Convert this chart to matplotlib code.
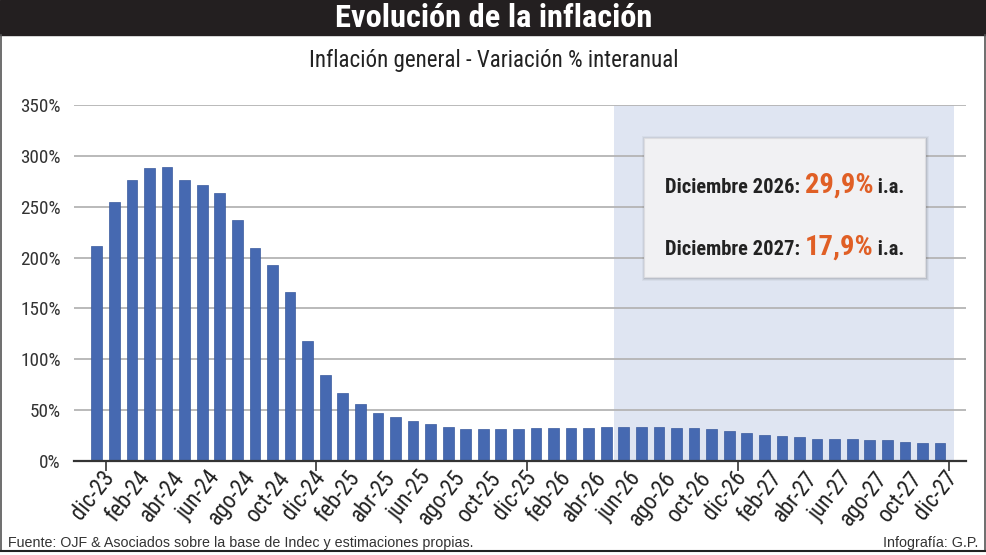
import matplotlib as mpl
mpl.use("Agg")
import matplotlib.pyplot as plt
from matplotlib.patches import Rectangle
from matplotlib.lines import Line2D
from matplotlib.transforms import ScaledTranslation

#
# --- chart data: monthly year-on-year inflation (%)
#
MONTHS = ["ene", "feb", "mar", "abr", "may", "jun",
          "jul", "ago", "sep", "oct", "nov", "dic"]
CATEGORIES = ["dic-23"] + [f"{m}-{y}" for y in (24, 25, 26, 27) for m in MONTHS]
VALUES = [
    211.4, 254.2, 276.2, 287.9, 289.4, 276.4, 271.5, 263.4, 236.7, 209.0,
    193.0, 166.0, 117.8, 84.5, 66.9, 55.9, 47.3, 43.5, 39.4, 36.6,
    33.6, 31.0, 31.0, 31.0, 31.0, 32.0, 32.0, 32.0, 32.0, 33.0,
    33.0, 33.0, 33.0, 32.0, 32.0, 31.0, 29.9, 28.0, 25.8, 24.5,
    23.5, 22.0, 22.0, 21.5, 20.5, 20.5, 19.0, 18.0, 17.9,
]
Y_TICKS = [0, 50, 100, 150, 200, 250, 300, 350]
FORECAST_START = "jun-26"
HIGHLIGHTS = [("Diciembre 2026: ", "29,9%"), ("Diciembre 2027: ", "17,9%")]

NARROW = ["Roboto Condensed", "DejaVu Sans"]
REGULAR = ["Liberation Sans", "DejaVu Sans"]
BAR_COLOR = "#4669b1"
ORANGE = "#e05f25"
TEXT = "#222222"

W, H = 987, 555
fig = plt.figure(figsize=(W / 100, H / 100), dpi=100)
fig.patch.set_facecolor("white")


def fx(px):
    return px / W


def fy(py):
    return 1 - py / H


def narrow(size, weight="normal"):
    return dict(family=NARROW, fontstretch="condensed", fontsize=size,
                fontweight=weight)


#
# --- frame and title band
#
fig.add_artist(Rectangle((0, fy(35)), 1, 35 / H, transform=fig.transFigure,
                         color="#231f20", zorder=0))
for xb in (fx(1.5), fx(985)):
    fig.add_artist(Line2D([xb, xb], [fy(35), fy(551)], transform=fig.transFigure,
                          color="#555555", lw=1.2))
fig.add_artist(Line2D([0, 1], [fy(551), fy(551)], transform=fig.transFigure,
                      color="#222222", lw=1.5))

fig.text(0.5, fy(18), "Evolución de la inflación", color="white",
         ha="center", va="center", **narrow(23.4, "bold"))
fig.text(0.5, fy(61), "Inflación general - Variación % interanual",
         color=TEXT, ha="center", va="center", **narrow(16.6))

#
# --- plotting area
#
ax = fig.add_axes([fx(74), fy(461), fx(966 - 74), (461 - 105) / H])
x = list(range(len(CATEGORIES)))
start = CATEGORIES.index(FORECAST_START)

ax.axvspan(start - 0.55, len(CATEGORIES) - 0.2, color="#dfe5f2", zorder=0, lw=0)
for t in Y_TICKS[1:]:
    ax.axhline(t, color="#b4b4b4", lw=1.3, zorder=1)
ax.bar(x, VALUES, width=0.61, color=BAR_COLOR, edgecolor="#3a5a9e", lw=0.5, zorder=2)

ax.set_xlim(-1.3, len(CATEGORIES) - 1 + 1.48)
ax.set_ylim(0, 350)
for s in ("top", "right", "left"):
    ax.spines[s].set_visible(False)
ax.spines["bottom"].set_color("#333333")
ax.spines["bottom"].set_linewidth(1.6)
ax.spines["bottom"].set_zorder(3)

ax.set_yticks(Y_TICKS)
ax.set_yticklabels([f"{t}%" for t in Y_TICKS], color="#333333", **narrow(13.8))
ax.tick_params(axis="y", length=0, pad=9.4)

ax.set_xticks(x[::2])
ax.set_xticklabels(CATEGORIES[::2], rotation=52, ha="right", va="top",
                   rotation_mode="anchor", color=TEXT, **narrow(16.5))
ax.set_xticks([i + 0.5 for i in range(0, len(CATEGORIES), 12)], minor=True)
ax.tick_params(axis="x", which="major", length=0, pad=4)
ax.tick_params(axis="x", which="minor", length=7, width=1.2, color="#333333")
offset = ScaledTranslation(4 / 100, 0, fig.dpi_scale_trans)
for lab in ax.get_xticklabels():
    lab.set_transform(lab.get_transform() + offset)

#
# --- highlight box
#
bx0, by0, bx1, by1 = 644, 138, 925, 277
for i, a in enumerate((0.04, 0.06, 0.08)):
    grow = 3 - i
    fig.add_artist(Rectangle((fx(bx0 - grow + 1), fy(by1 + grow + 1)),
                             (bx1 - bx0 + 2 * grow) / W, (by1 - by0 + 2 * grow) / H,
                             transform=fig.transFigure, color="black", alpha=a,
                             lw=0, zorder=4))
fig.add_artist(Rectangle((fx(bx0), fy(by1)), (bx1 - bx0) / W, (by1 - by0) / H,
                         transform=fig.transFigure, facecolor="#f1f1f3",
                         edgecolor="#dcdce0", lw=0.8, zorder=5))

renderer = fig.canvas.get_renderer()
for (label, value), base in zip(HIGHLIGHTS, (193, 255)):
    cur = 665
    for txt, color, style in ((label, TEXT, narrow(14.8, "semibold")),
                              (value, ORANGE, narrow(20.5, "bold")),
                              (" i.a.", TEXT, narrow(14.8, "semibold"))):
        t = fig.text(fx(cur), fy(base), txt, color=color, ha="left",
                     va="baseline", zorder=6, **style)
        cur = t.get_window_extent(renderer).x1

#
# --- footer
#
fig.text(fx(8), fy(543), "Fuente: OJF & Asociados sobre la base de Indec y estimaciones propias.",
         family=REGULAR, fontsize=10.3, color="#333333", ha="left", va="center")
fig.text(fx(978), fy(543), "Infografía: G.P.", family=REGULAR, fontsize=10.3,
         color="#333333", ha="right", va="center")

fig.savefig("out.png", dpi=100)
